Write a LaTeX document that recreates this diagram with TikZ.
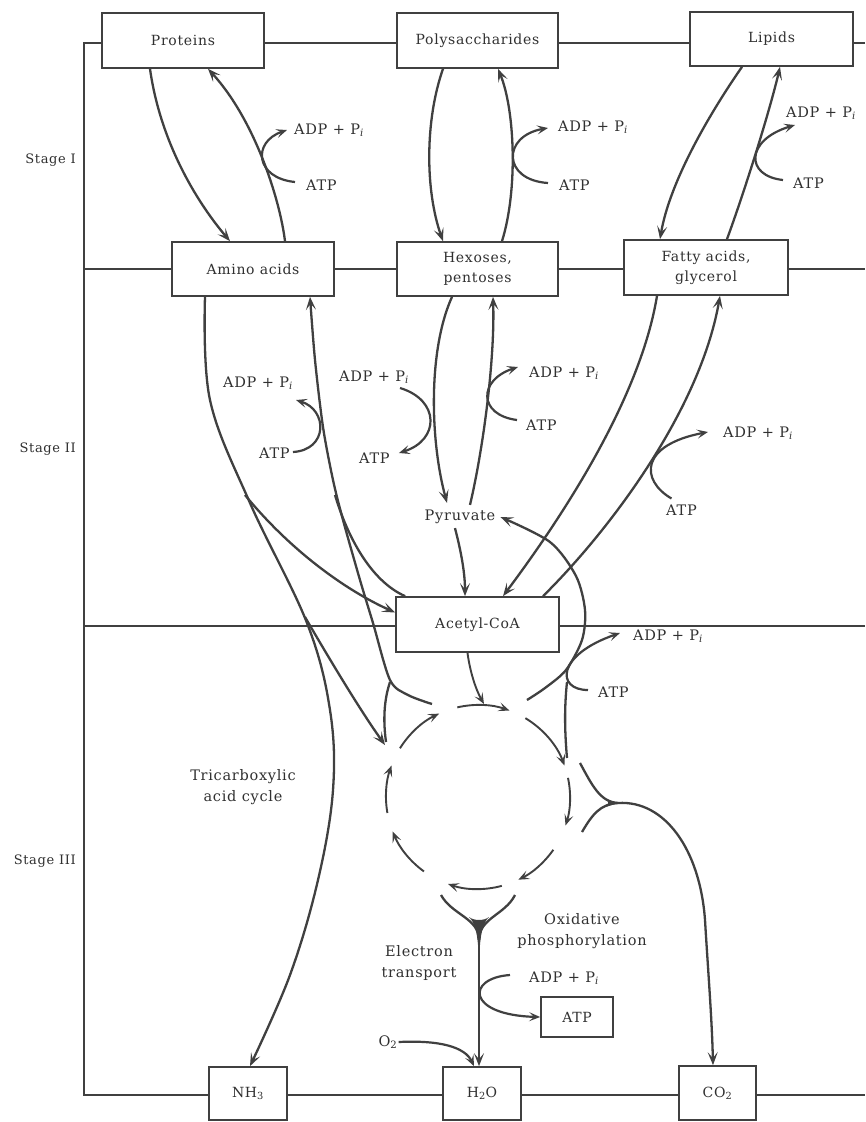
\documentclass[tikz,border=0pt]{standalone}
\usepackage{fontspec}
\setmainfont{DejaVu Serif}[LetterSpace=5]
\usetikzlibrary{arrows.meta,calc}
\definecolor{ink}{HTML}{404040}
\definecolor{txt}{HTML}{303030}
\newcommand\ADPi{ADP + P\textsubscript{\itshape i}}
\begin{document}
\begin{tikzpicture}[x=1pt,y=-1pt,
  box/.style={draw=ink, line width=1.7pt, fill=white, text=txt, font=\fontsize{14}{20}\selectfont, align=center, inner sep=0pt},
  lbl/.style={text=txt, font=\fontsize{14.5}{21}\selectfont, inner sep=1pt, align=center},
  stg/.style={text=txt, font=\fontsize{13}{15}\selectfont, anchor=east, inner sep=0pt},
  frm/.style={draw=ink, line width=1.6pt},
  con/.style={draw=ink, line width=2.3pt, -{Stealth[length=13pt,width=10pt,inset=6pt]}},
  sidearr/.style={draw=ink, line width=2.2pt, -{Stealth[length=11pt,width=9pt,inset=5pt]}},
  plainline/.style={draw=ink, line width=2.3pt},
  cyc/.style={draw=ink, line width=1.9pt, -{Stealth[length=11pt,width=9pt,inset=5pt]}},
]
\fill[white] (0,0) rectangle (865,1122);
\useasboundingbox (0,0) rectangle (865,1122);

% frame lines
\draw[frm] (865,43) -- (84,43) -- (84,1095) -- (865,1095);
\draw[frm] (84,269) -- (865,269);
\draw[frm] (84,626) -- (865,626);

% stage labels
\node[stg] (s1) at (76,160) {Stage I};
\node[stg] (s2) at (76,449) {Stage II};
\node[stg] (s3) at (76,861) {Stage III};

% boxes
\node[box, minimum width=162pt, minimum height=55pt] (proteins) at (183,40.5) {Proteins};
\node[box, minimum width=161pt, minimum height=55pt] (poly) at (477.5,40.5) {Polysaccharides};
\node[box, minimum width=163pt, minimum height=54pt] (lipids) at (771.5,39) {Lipids};
\node[box, minimum width=162pt, minimum height=54pt] (amino) at (253,269) {Amino acids};
\node[box, minimum width=161pt, minimum height=54pt] (hexoses) at (477.5,269) {Hexoses,\\pentoses};
\node[box, minimum width=164pt, minimum height=55pt] (fatty) at (706,267.5) {Fatty acids,\\glycerol};
\node[box, minimum width=163pt, minimum height=55pt] (acetyl) at (477.5,624.5) {Acetyl-CoA};
\node[box, minimum width=78pt, minimum height=53pt] (nh3) at (248,1093.5) {NH\textsubscript{3}};
\node[box, minimum width=78pt, minimum height=53pt] (h2o) at (482,1093.5) {H\textsubscript{2}O};
\node[box, minimum width=77pt, minimum height=54pt] (co2) at (717.5,1093) {CO\textsubscript{2}};
\node[box, minimum width=72pt, minimum height=40pt] (atpbox) at (577,1017) {ATP};

% free labels
\node[lbl] (pyr) at (460,517) {Pyruvate};
\node[lbl] (tca) at (243,787) {Tricarboxylic\\acid cycle};
\node[lbl] (et) at (419,963) {Electron\\transport};
\node[lbl] (ox) at (582,931) {Oxidative\\phosphorylation};
\node[lbl] (o2) at (388,1042) {O\textsubscript{2}};

\node[lbl, anchor=west] (adp1) at (293,130) {\ADPi};
\node[lbl, anchor=west] (atp1) at (305,185) {ATP};
\node[lbl, anchor=west] (adp2) at (557,127) {\ADPi};
\node[lbl, anchor=west] (atp2) at (558,185) {ATP};
\node[lbl, anchor=west] (adp3) at (785,113) {\ADPi};
\node[lbl, anchor=west] (atp3) at (792,183) {ATP};
\node[lbl, anchor=west] (adp4) at (222,383) {\ADPi};
\node[lbl, anchor=west] (atp4) at (258,453) {ATP};
\node[lbl, anchor=west] (adp5) at (338,377) {\ADPi};
\node[lbl, anchor=west] (atp5) at (358,458) {ATP};
\node[lbl, anchor=west] (adp6) at (528,373) {\ADPi};
\node[lbl, anchor=west] (atp6) at (525,425) {ATP};
\node[lbl, anchor=west] (adp7) at (722,433) {\ADPi};
\node[lbl, anchor=west] (atp7) at (665,510) {ATP};
\node[lbl, anchor=west] (adp8) at (632,636) {\ADPi};
\node[lbl, anchor=west] (atp8) at (597,692) {ATP};
\node[lbl, anchor=west] (adp9) at (528,978) {\ADPi};

% named free points
\coordinate (cc) at (478,797);
\coordinate (cycA) at (432,704);
\coordinate (cycB) at (386,742);
\coordinate (cycT) at (484,704);
\coordinate (cycP) at (527,700);
\coordinate (cycR) at (567,758);
\coordinate (co2a) at (580,763);
\coordinate (co2b) at (582,832);
\coordinate (jCO2) at (618,803);
\coordinate (etL) at (441,895);
\coordinate (etR) at (515,895);
\coordinate (jET) at (479,940);
\coordinate (l3end) at (385,745);

% ---------- Stage I ----------
\draw[con] ([xshift=-33pt]proteins.south) .. controls (160,140) and (195,200) .. ([xshift=-23pt]amino.north);
\draw[con] ([xshift=32pt]amino.north) .. controls (280,200) and (255,120) .. ([xshift=25pt]proteins.south);
\draw[sidearr] ($(atp1.west)+(-10,-3)$) .. controls (255,178) and (252,142) .. ($(adp1.west)+(-6,0)$);

\draw[con] ([xshift=-34.5pt]poly.south) .. controls (425,120) and (425,190) .. ([xshift=-34.5pt]hexoses.north);
\draw[con] ([xshift=24.5pt]hexoses.north) .. controls (518,190) and (515,110) .. ([xshift=20.5pt]poly.south);
\draw[sidearr] ($(atp2.west)+(-10,-2)$) .. controls (502,180) and (502,136) .. ($(adp2.west)+(-9,1)$);

\draw[con] ([xshift=-29.5pt]lipids.south) .. controls (712,110) and (670,180) .. ([xshift=-46pt]fatty.north);
\draw[con] ([xshift=21pt]fatty.north) .. controls (745,190) and (770,110) .. ([xshift=8.5pt]lipids.south);
\draw[sidearr] ($(atp3.west)+(-9,-3)$) .. controls (745,176) and (745,140) .. ($(adp3.west)+(10,12)$);

% ---------- Stage II ----------
\draw[con] ([xshift=-25.5pt]hexoses.south) .. controls (428,350) and (430,440) .. ([xshift=-13pt,yshift=6pt]pyr.north);
\draw[con] ([xshift=10pt,yshift=4pt]pyr.north) .. controls (483,450) and (495,360) .. ([xshift=15.5pt]hexoses.south);
\draw[sidearr] ($(adp5.east)+(-10,11)$) .. controls (440,400) and (440,440) .. ($(atp5.east)+(8,-5)$);
\draw[sidearr] ($(atp6.west)+(-8,-5)$) .. controls (478,415) and (478,380) .. ($(adp6.west)+(-10,-6)$);

\draw[con] ([xshift=-5pt,yshift=-3pt]pyr.south) .. controls (462,555) and (465,575) .. ([xshift=-12.5pt]acetyl.north);

\draw[con] ([xshift=-49pt]fatty.south) .. controls (640,400) and (560,520) .. ([xshift=25.5pt]acetyl.north);
\draw[con] ([xshift=65.5pt]acetyl.north) .. controls (610,530) and (700,410) .. ([xshift=14pt]fatty.south);
\draw[sidearr] ($(atp7.north)+(-10,-5)$) .. controls (640,480) and (640,445) .. ($(adp7.west)+(-14,-1)$);

% amino acids: downward to NH3
\draw[con] plot[smooth, tension=0.6] coordinates {([xshift=-48pt]amino.south) (210,400) (250,503) (307,623) (330,710) (333,790) (318,880) (290,975) ([xshift=2pt]nh3.north)};
% branch to acetyl-CoA
\draw[con] (245,495) .. controls (290,550) and (345,590) .. ([yshift=12pt]acetyl.west);
% branch to cycle
\draw[con] (305,617) .. controls (330,660) and (360,710) .. (l3end);
% upward to amino acids
\draw[con] plot[smooth] coordinates {(cycA) (408,695) (390,680) (373,623) (360,580) (343,520) (333,480) (323,427) (315,360) ([xshift=57pt]amino.south)};
\draw[plainline] (335,495) .. controls (350,545) and (375,583) .. ([xshift=10pt]acetyl.north west);
\draw[plainline] (cycB) .. controls (383,720) and (384,700) .. (390,682);
\draw[sidearr] ($(atp4.east)+(2,-1)$) .. controls (328,450) and (328,410) .. ($(adp4.east)+(2,17)$);

% ---------- Stage III ----------
% acetyl-CoA into cycle
\draw[cyc] ([xshift=-10pt]acetyl.south) .. controls (470,672) and (476,690) .. (cycT);
% cycle arcs
\foreach \a/\b in {212/245, 257/290, 301/340, 348/378, 35/64, 75/109, 126/158, 170/200}
  \draw[cyc] ($(cc)+(\a:92)$) arc[start angle=\a, end angle=\b, radius=92];

% cycle -> pyruvate
\draw[con] plot[smooth] coordinates {(cycP) (545,688) (566,670) (582,640) (585,610) (576,576) (550,542) ([xshift=4pt]pyr.east)};
\draw[plainline] (cycR) .. controls (565,735) and (564,710) .. (567,682);
\draw[sidearr] ($(atp8.west)+(-9,-2)$) .. controls (556,690) and (556,655) .. ($(adp8.west)+(-12,-3)$);

% to CO2
\draw[plainline] (co2a) .. controls (592,785) and (600,802) .. (jCO2);
\draw[plainline] (co2b) .. controls (592,815) and (600,804) .. (jCO2);
\fill[ink] (606,799) .. controls (611,801) and (614,802) .. (624,803) .. controls (614,804) and (611,805) .. (606,807) .. controls (609,804) and (609,802) .. cycle;
\draw[con] (jCO2) .. controls (665,800) and (700,850) .. (705,920) .. controls (708,970) and (712,1020) .. ([xshift=-4.5pt]co2.north);

% electron transport
\draw[plainline] (etL) .. controls (452,915) and (479,918) .. (jET);
\draw[plainline] (etR) .. controls (505,915) and (479,918) .. (jET);
\fill[ink] (469,917) .. controls (475,923) and (478,932) .. (479,962) .. controls (480,932) and (483,923) .. (489,917) .. controls (484,921) and (474,921) .. cycle;
\draw[con] (jET) -- ([xshift=-3pt]h2o.north);
\draw[sidearr] ($(adp9.west)+(-18,-3)$) .. controls (466,978) and (466,1015) .. (atpbox.west);
\draw[sidearr] (o2.east) .. controls (440,1040) and (465,1047) .. ([xshift=-8pt]h2o.north);

\end{tikzpicture}
\end{document}
